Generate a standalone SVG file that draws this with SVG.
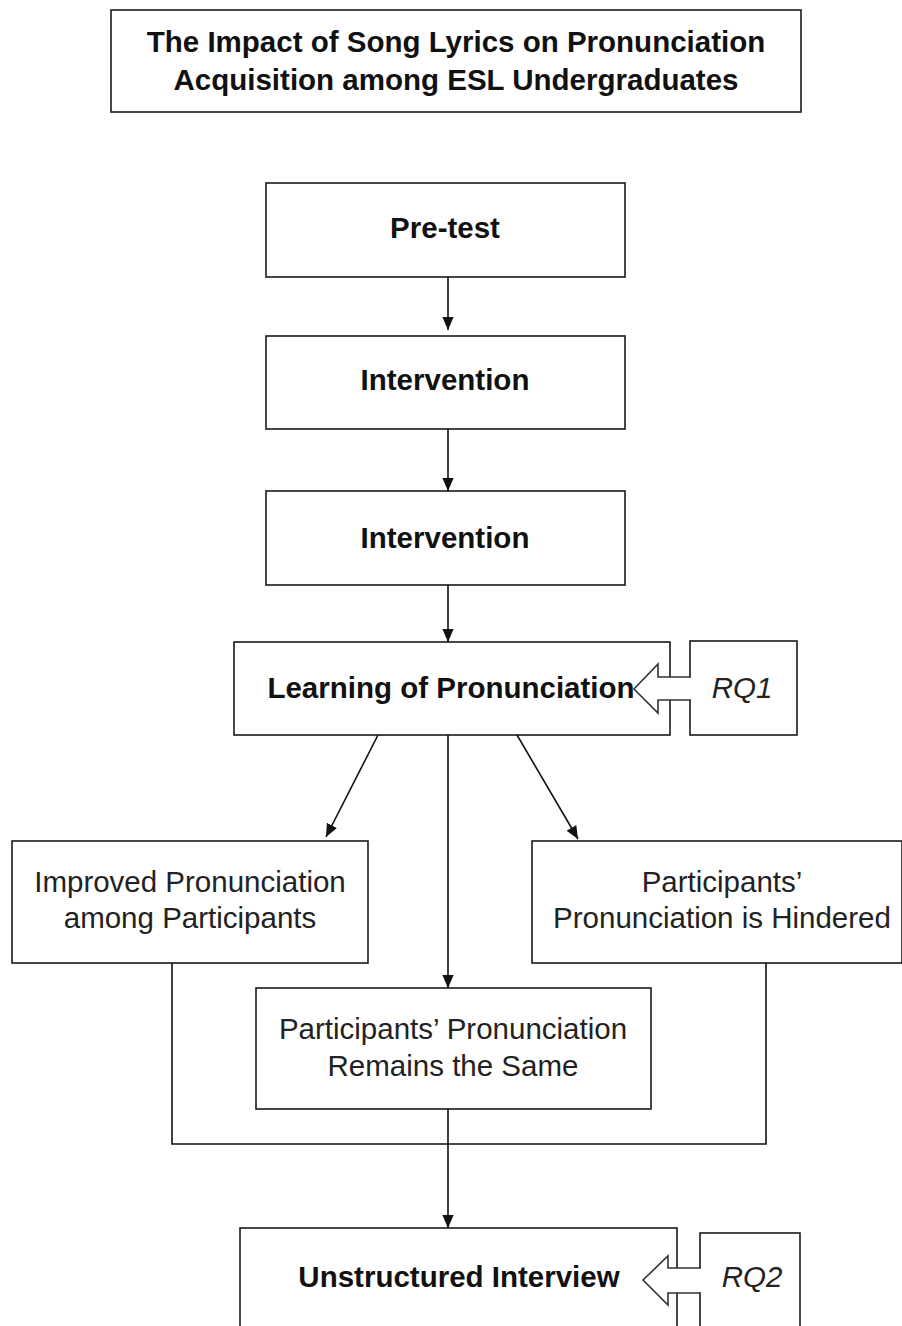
<svg xmlns="http://www.w3.org/2000/svg" width="902" height="1326" viewBox="0 0 902 1326">
<style>
.box{fill:#fff;stroke:#1a1a1a;stroke-width:1.6}
.b{font-family:"Liberation Sans",Arial,sans-serif;font-weight:bold;font-size:29.5px;fill:#111;text-anchor:middle}
.r{font-family:"Liberation Sans",Arial,sans-serif;font-size:29.5px;fill:#222;text-anchor:middle}
.i{font-family:"Liberation Sans",Arial,sans-serif;font-style:italic;font-size:29.5px;fill:#222;text-anchor:middle}
.c{fill:none;stroke:#111;stroke-width:1.6}
.blk{fill:#fff;stroke:#333;stroke-width:1.6}
</style>
<defs>
<marker id="ah" markerWidth="13" markerHeight="15" refX="15" refY="7" orient="auto" markerUnits="userSpaceOnUse" viewBox="0 0 15 14">
<path d="M0,0.5 L15,7 L0,13.5 Z" fill="#111"/>
</marker>
</defs>
<g id="title">
<rect class="box" x="111" y="10" width="690" height="102"/>
<text class="b" x="456" y="52">The Impact of Song Lyrics on Pronunciation</text>
<text class="b" x="456" y="90">Acquisition among ESL Undergraduates</text>
</g>
<g id="pretest">
<rect class="box" x="266" y="183" width="359" height="94"/>
<text class="b" x="445" y="238">Pre-test</text>
</g>
<g id="intervention1">
<rect class="box" x="266" y="336" width="359" height="93"/>
<text class="b" x="445" y="390">Intervention</text>
</g>
<g id="intervention2">
<rect class="box" x="266" y="491" width="359" height="94"/>
<text class="b" x="445" y="548">Intervention</text>
</g>
<g id="learning">
<rect class="box" x="234" y="642" width="436" height="93"/>
<text class="b" x="451" y="698">Learning of Pronunciation</text>
</g>
<g id="rq1">
<rect class="box" x="690" y="641" width="107" height="94"/>
<text class="i" x="742" y="698">RQ1</text>
</g>
<g id="improved">
<rect class="box" x="12" y="841" width="356" height="122"/>
<text class="r" x="190" y="892">Improved Pronunciation</text>
<text class="r" x="190" y="928">among Participants</text>
</g>
<g id="hindered">
<rect class="box" x="532" y="841" width="370" height="122"/>
<text class="r" x="722" y="892">Participants’</text>
<text class="r" x="722" y="928">Pronunciation is Hindered</text>
</g>
<g id="same">
<rect class="box" x="256" y="988" width="395" height="121"/>
<text class="r" x="453" y="1039">Participants’ Pronunciation</text>
<text class="r" x="453" y="1076">Remains the Same</text>
</g>
<g id="interview">
<rect class="box" x="240" y="1228" width="437" height="120"/>
<text class="b" x="459" y="1287">Unstructured Interview</text>
</g>
<g id="rq2">
<rect class="box" x="700" y="1233" width="100" height="120"/>
<text class="i" x="752" y="1287">RQ2</text>
</g>
<g id="connectors">
<line class="c" x1="448" y1="277" x2="448" y2="330" marker-end="url(#ah)"/>
<line class="c" x1="448" y1="429" x2="448" y2="491" marker-end="url(#ah)"/>
<line class="c" x1="448" y1="585" x2="448" y2="642" marker-end="url(#ah)"/>
<line class="c" x1="378" y1="735" x2="326" y2="837" marker-end="url(#ah)"/>
<line class="c" x1="448" y1="735" x2="448" y2="988" marker-end="url(#ah)"/>
<line class="c" x1="517" y1="735" x2="578" y2="839" marker-end="url(#ah)"/>
<path class="c" d="M172,963 V1144 H766 V963"/>
<line class="c" x1="448" y1="1109" x2="448" y2="1228" marker-end="url(#ah)"/>
<rect x="656" y="678" width="36" height="21" fill="#fff"/>
<path class="blk" d="M690,677 H658 V664 L634,689 L658,713 V700 H690"/>
<rect x="664" y="1269" width="38" height="23" fill="#fff"/>
<path class="blk" d="M700,1268 H668 V1256 L643,1280 L668,1305 V1293 H700"/>
</g>
</svg>
